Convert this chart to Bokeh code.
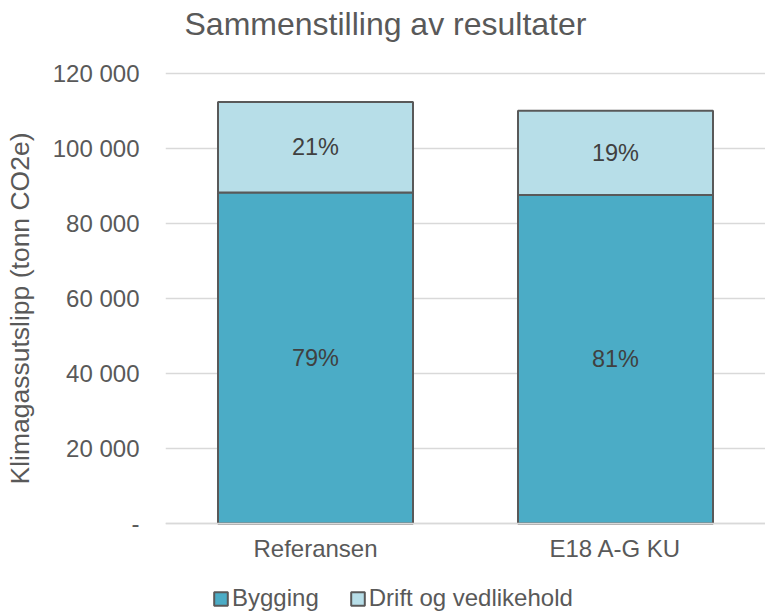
from bokeh.plotting import figure
from bokeh.models import (ColumnDataSource, FactorRange, Range1d, LabelSet, Label, Legend,
                          LegendItem, FixedTicker)
from bokeh.core.properties import value
from bokeh.embed import file_html
from bokeh.resources import INLINE

categories = ["Referansen", "E18 A-G KU"]
bygging = [88300, 87600]
drift = [24100, 22500]
bygging_pct = ["79%", "81%"]
drift_pct = ["21%", "19%"]
y_ticks = [0, 20000, 40000, 60000, 80000, 100000, 120000]
y_tick_labels = ["-", "20 000", "40 000", "60 000", "80 000", "100 000", "120 000"]
series_names = ["Bygging", "Drift og vedlikehold"]
colors = ["#4BACC6", "#B7DEE8"]
title_text = "Sammenstilling av resultater"
y_title = "Klimagassutslipp (tonn CO2e)"

FONT = "Liberation Sans"
TXT = "#595959"

# the frame covers the whole height; the value axis spans 0..120 000 over 450 px
Y_MIN, Y_MAX = -24800, 139467

src = ColumnDataSource(dict(
    cat=categories,
    bygging=bygging,
    drift=drift,
    byg_mid=[b / 2 for b in bygging],
    drift_mid=[b + d / 2 for b, d in zip(bygging, drift)],
    byg_pct=bygging_pct,
    drift_pct=drift_pct,
))

p = figure(x_range=FactorRange(*categories), y_range=Range1d(Y_MIN, Y_MAX),
           width=765, height=616, output_backend="svg", toolbar_location=None,
           min_border_left=165, min_border_right=0, min_border_top=0,
           min_border_bottom=0)

rs = p.vbar_stack(["bygging", "drift"], x="cat", width=0.65, source=src,
                  fill_color=colors, line_color="#595959", line_width=2)

for ycol, tcol in (("byg_mid", "byg_pct"), ("drift_mid", "drift_pct")):
    p.add_layout(LabelSet(x="cat", y=ycol, text=tcol, source=src,
                          text_align="center", text_baseline="middle",
                          text_font=value(FONT), text_font_size=value("23.5px"),
                          text_color="#404040"))

p.add_layout(Label(x=19, y=593, x_units="screen", y_units="screen", text=title_text,
                   text_font=FONT, text_font_size="32px", text_color=TXT,
                   text_baseline="alphabetic", text_align="left"))

p.outline_line_color = None
p.xgrid.grid_line_color = None
p.ygrid.grid_line_color = "#D9D9D9"
p.ygrid.grid_line_width = 1.5
p.yaxis.ticker = FixedTicker(ticks=y_ticks)
p.yaxis.major_label_overrides = {t: l for t, l in zip(y_ticks, y_tick_labels)}
p.yaxis.axis_line_color = None
p.yaxis.major_tick_line_color = None
p.yaxis.minor_tick_line_color = None
p.yaxis.major_tick_out = 0
p.yaxis.major_label_standoff = 26
p.yaxis.axis_label = y_title
p.yaxis.axis_label_standoff = 15
p.yaxis.axis_label_text_font = FONT
p.yaxis.axis_label_text_font_size = "26.5px"
p.yaxis.axis_label_text_font_style = "normal"
p.yaxis.axis_label_text_color = TXT

p.xaxis.fixed_location = 0
p.xaxis.axis_line_color = "#D9D9D9"
p.xaxis.axis_line_width = 1.5
p.xaxis.major_tick_line_color = None
p.xaxis.minor_tick_line_color = None
p.xaxis.major_tick_out = 0
p.xaxis.major_label_standoff = 11

for ax in (p.xaxis, p.yaxis):
    ax.major_label_text_font = FONT
    ax.major_label_text_font_size = "24px"
    ax.major_label_text_color = TXT

legend = Legend(items=[LegendItem(label=n, renderers=[r]) for n, r in zip(series_names, rs)],
                orientation="horizontal", location=(47, 4),
                glyph_width=17, glyph_height=17, label_standoff=3, spacing=30,
                padding=0, margin=0, border_line_color=None,
                label_text_font=FONT, label_text_font_size="24px",
                label_text_color=TXT, background_fill_alpha=0)
p.add_layout(legend)

open("out.html", "w").write(file_html(p, INLINE))
